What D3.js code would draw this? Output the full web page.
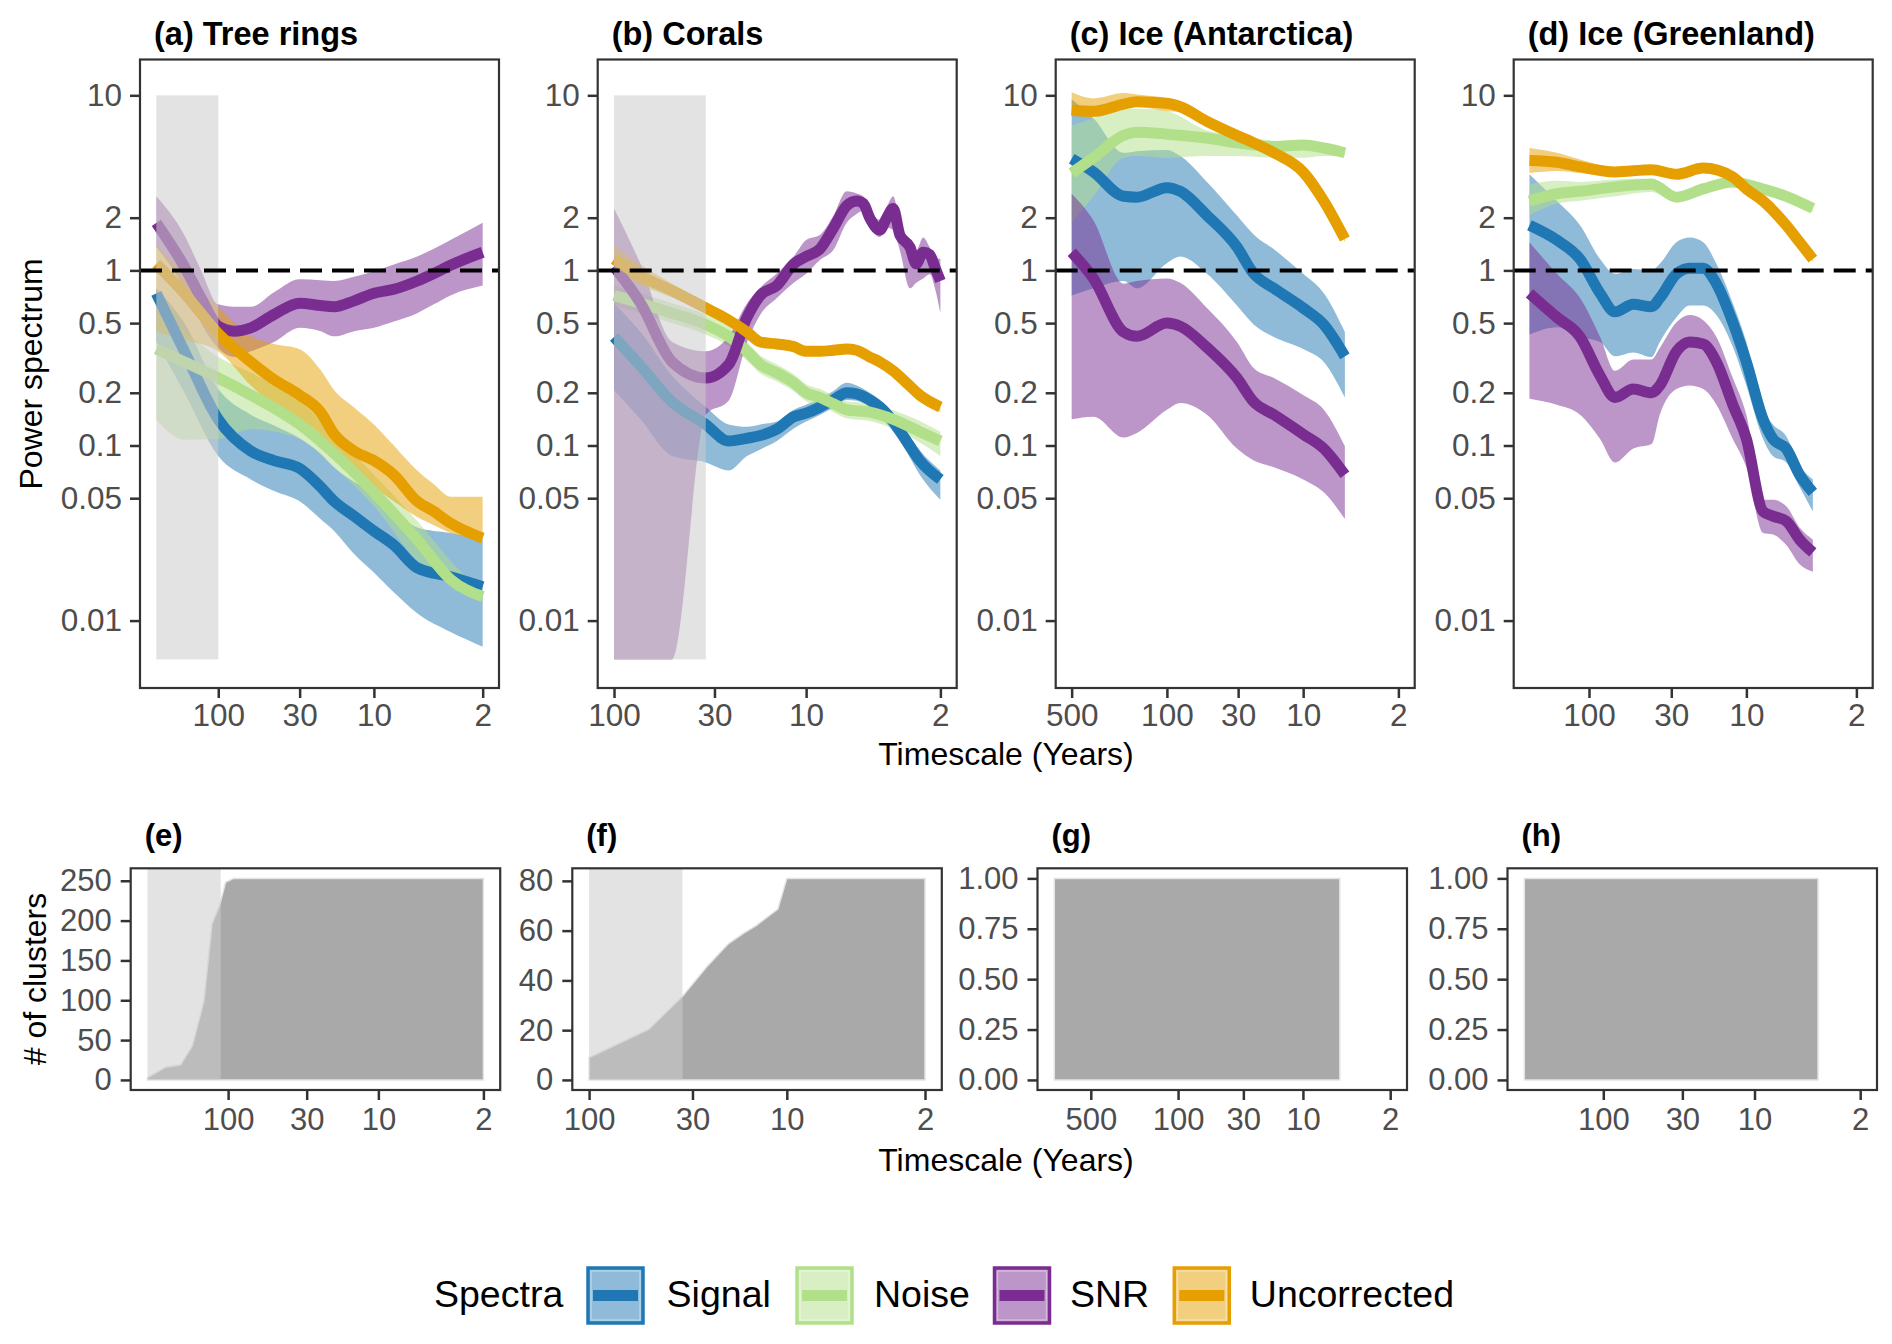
<!DOCTYPE html>
<html>
<head>
<meta charset="utf-8">
<script src="https://cdn.jsdelivr.net/npm/d3@7"></script>
<style>
  body { margin: 0; background: #fff; }
  svg text { font-family: "Liberation Sans", Arial, Helvetica, sans-serif; }
</style>
</head>
<body>
<svg id="chart" width="1892" height="1344"></svg>
<script>
"use strict";

// ---- data: rows are [timescale, mean, lower, upper] ----
var treeSignal = [[250,0.74,0.39,0.79],[165,0.345,0.2,0.5],[100,0.141,0.087,0.21],[61.7,0.093,0.064,0.15],[43.8,0.082,0.055,0.13],[30,0.074,0.048,0.11],[22,0.058,0.038,0.09],[18,0.048,0.0325,0.075],[13.4,0.0395,0.024,0.062],[10,0.0325,0.0188,0.054],[7.45,0.027,0.0145,0.043],[5.27,0.02,0.011,0.034],[3.22,0.0178,0.0086,0.0316],[2,0.0156,0.0071,0.029]];
var treeNoise = [[250,0.356,0.14,0.57],[165,0.3,0.108,0.45],[100,0.243,0.109,0.32],[61.7,0.194,0.124,0.26],[30,0.132,0.109,0.18],[18,0.09,0.075,0.115],[10,0.054,0.045,0.068],[5.27,0.029,0.022,0.037],[3.22,0.0172,0.016,0.022],[2,0.0137,0.0128,0.0145]];
var treeSNR = [[250,1.87,1.36,2.65],[165,1.05,0.79,1.59],[129,0.695,0.5,1.0],[100,0.48,0.36,0.64],[79,0.45,0.32,0.62],[61.7,0.47,0.345,0.62],[43.8,0.56,0.39,0.75],[30,0.65,0.47,0.89],[22,0.63,0.45,0.88],[18,0.62,0.42,0.87],[13.4,0.67,0.45,0.92],[10,0.74,0.47,0.99],[7.45,0.78,0.51,1.08],[5.27,0.87,0.57,1.2],[4.12,0.96,0.64,1.33],[3.22,1.07,0.72,1.49],[2,1.27,0.82,1.87]];
var treeUnc = [[250,1.09,0.445,1.4],[165,0.74,0.4,0.96],[100,0.436,0.345,0.62],[61.7,0.3,0.22,0.42],[43.8,0.238,0.17,0.38],[30,0.194,0.14,0.355],[22,0.155,0.115,0.27],[18,0.116,0.088,0.207],[13.4,0.093,0.07,0.165],[10,0.082,0.058,0.132],[7.45,0.068,0.048,0.1],[5.27,0.048,0.039,0.072],[4.12,0.042,0.035,0.06],[3.22,0.036,0.0316,0.051],[2,0.0296,0.029,0.051]];

var coralSignal = [[100,0.417,0.207,0.65],[72.8,0.285,0.141,0.445],[49.8,0.177,0.087,0.25],[33.3,0.132,0.08,0.166],[25.3,0.106,0.072,0.132],[20.3,0.11,0.087,0.128],[17.3,0.114,0.095,0.132],[14.2,0.124,0.106,0.137],[11.6,0.146,0.125,0.16],[10,0.153,0.137,0.171],[8.45,0.166,0.15,0.185],[7.2,0.182,0.165,0.205],[6.15,0.2,0.182,0.228],[5.46,0.197,0.18,0.22],[4.66,0.182,0.165,0.2],[4.13,0.166,0.146,0.182],[3.52,0.137,0.12,0.153],[3.0,0.106,0.092,0.12],[2.56,0.082,0.068,0.094],[2,0.064,0.049,0.072]];
var coralNoise = [[100,0.72,0.63,0.815],[72.8,0.65,0.57,0.74],[49.8,0.57,0.5,0.65],[33.3,0.49,0.43,0.56],[25.3,0.42,0.37,0.48],[20.3,0.345,0.305,0.39],[17.3,0.29,0.258,0.326],[14.2,0.26,0.232,0.29],[11.6,0.228,0.204,0.255],[10,0.2,0.179,0.224],[8.45,0.188,0.168,0.21],[7.2,0.173,0.155,0.193],[6.15,0.16,0.143,0.179],[4.66,0.155,0.138,0.174],[3.52,0.141,0.125,0.159],[2.56,0.12,0.104,0.138],[2,0.106,0.087,0.12]];
var coralSNR = [[100,1.05,0.006,2.26],[72.8,0.65,0.006,1.09],[49.8,0.3,0.006,0.39],[33.3,0.243,0.15,0.345],[25.3,0.29,0.18,0.42],[20.3,0.54,0.39,0.65],[17.3,0.72,0.56,0.8],[14.2,0.82,0.695,0.96],[11.6,1.09,0.85,1.2],[10,1.2,0.956,1.49],[8.45,1.33,1.15,1.6],[7.2,1.75,1.31,2.06],[6.15,2.34,1.87,2.83],[5.46,2.49,2.1,2.75],[5.04,2.41,2.19,2.65],[4.66,1.99,1.8,2.2],[4.13,1.7,1.55,1.95],[3.81,1.99,1.75,2.3],[3.52,2.26,1.7,2.65],[3.25,1.59,1.3,1.85],[2.88,1.36,0.79,1.49],[2.67,1.09,0.85,1.3],[2.46,1.27,0.9,1.54],[2.27,1.23,0.95,1.35],[2.14,1.05,0.8,1.2],[2,0.87,0.57,1.16]];
var coralUnc = [[100,1.16,0.96,1.4],[72.8,0.93,0.82,1.08],[49.8,0.765,0.7,0.84],[33.3,0.61,0.57,0.66],[25.3,0.52,0.49,0.555],[20.3,0.445,0.42,0.47],[17.3,0.39,0.37,0.41],[14.2,0.38,0.36,0.4],[11.6,0.367,0.35,0.385],[10,0.345,0.33,0.362],[8.45,0.345,0.33,0.362],[7.2,0.35,0.335,0.367],[6.15,0.356,0.34,0.373],[5.46,0.35,0.335,0.367],[4.66,0.32,0.305,0.336],[4.13,0.3,0.285,0.315],[3.52,0.267,0.253,0.282],[3.0,0.228,0.215,0.242],[2.56,0.194,0.182,0.207],[2,0.166,0.155,0.178]];

var antSignal = [[500,4.34,0.72,9.5],[346,3.65,0.79,7.4],[208,2.65,0.87,4.7],[166,2.62,0.79,4.8],[100,2.97,1.1,4.87],[79.8,2.83,1.2,4.5],[50.8,2.06,0.956,3.2],[30.6,1.36,0.63,2.06],[23,0.956,0.49,1.6],[16.4,0.79,0.417,1.32],[10,0.61,0.356,0.956],[7.05,0.49,0.3,0.74],[4.94,0.323,0.188,0.445]];
var antNoise = [[500,3.6,1.87,6.7],[346,4.4,2.65,7.4],[208,5.9,4.4,8.4],[166,6.15,4.5,8.4],[100,6.0,4.4,8.1],[50.8,5.7,4.5,6.3],[30.6,5.35,4.5,5.9],[16.4,5.1,4.4,5.5],[10,5.2,4.4,5.4],[7.05,5.0,4.5,5.2],[4.94,4.7,4.5,5.0]];
var antSNR = [[500,1.27,0.141,2.74],[346,0.9,0.146,1.93],[208,0.445,0.111,0.84],[166,0.42,0.118,0.87],[100,0.5,0.16,0.9],[79.8,0.48,0.175,0.85],[50.8,0.363,0.15,0.61],[30.6,0.243,0.096,0.39],[23,0.177,0.082,0.276],[16.4,0.15,0.075,0.243],[10,0.116,0.064,0.194],[7.05,0.096,0.054,0.16],[4.94,0.068,0.038,0.099]];
var antUnc = [[500,8.26,7.6,10.4],[346,8.1,7.5,9.6],[208,8.9,8.3,10.3],[166,9.2,8.6,10.1],[100,9.0,8.1,9.6],[79.8,8.6,8.0,9.1],[50.8,7.1,6.7,7.5],[30.6,5.9,5.6,6.2],[23,5.35,5.1,5.6],[16.4,4.7,4.5,4.9],[10,3.65,3.5,3.8],[7.05,2.49,2.4,2.6],[4.94,1.51,1.45,1.58]];

var grnSignal = [[239,1.81,0.43,3.54],[160,1.49,0.474,2.49],[114,1.16,0.417,1.81],[85,0.74,0.39,1.16],[68.4,0.58,0.323,0.956],[52.3,0.64,0.34,1.02],[40,0.62,0.32,1.0],[35.5,0.695,0.39,1.09],[27.8,0.956,0.54,1.45],[22.9,1.03,0.63,1.54],[18.8,1.03,0.63,1.45],[15.5,0.84,0.556,1.09],[12.2,0.505,0.367,0.65],[10,0.3,0.22,0.39],[7.83,0.141,0.109,0.16],[6.78,0.109,0.087,0.132],[5.58,0.096,0.08,0.113],[4.59,0.068,0.058,0.077],[3.78,0.054,0.042,0.064]];
var grnNoise = [[239,2.49,2.06,3.1],[160,2.74,2.41,3.25],[114,2.83,2.5,3.2],[68.4,3.0,2.65,3.3],[40,3.1,2.8,3.35],[27.8,2.62,2.45,2.8],[18.8,2.92,2.75,3.1],[12.2,3.2,3.05,3.35],[10,3.1,2.95,3.25],[7.83,2.92,2.8,3.05],[5.58,2.65,2.55,2.75],[3.78,2.26,2.15,2.35]];
var grnSNR = [[239,0.74,0.185,1.45],[160,0.54,0.171,0.956],[114,0.417,0.15,0.695],[85,0.25,0.109,0.417],[68.4,0.188,0.08,0.267],[52.3,0.21,0.096,0.31],[40,0.2,0.102,0.31],[35.5,0.22,0.15,0.36],[27.8,0.345,0.21,0.505],[22.9,0.39,0.22,0.556],[18.8,0.38,0.21,0.52],[15.5,0.3,0.171,0.417],[12.2,0.171,0.109,0.243],[10,0.109,0.075,0.15],[7.83,0.042,0.0316,0.049],[6.78,0.0395,0.031,0.049],[5.58,0.037,0.027,0.045],[4.59,0.029,0.021,0.034],[3.78,0.0245,0.019,0.029]];
var grnUnc = [[239,4.25,3.6,5.0],[160,4.15,3.7,4.7],[114,3.9,3.6,4.3],[68.4,3.65,3.45,3.9],[40,3.76,3.6,3.95],[27.8,3.54,3.4,3.7],[18.8,3.84,3.7,4.0],[12.2,3.42,3.3,3.55],[10,2.92,2.8,3.05],[7.83,2.49,2.4,2.6],[5.58,1.81,1.74,1.88],[4.59,1.45,1.4,1.5],[3.78,1.16,1.12,1.2]];

// cluster counts against timescale
var treeClustT = [344, 261, 207, 173, 145, 128, 114, 104, 92, 2];
var treeClustN = [3, 16, 19, 43, 99, 196, 219, 248, 253, 253];
var coralClustT = [100, 50, 33.7, 25.4, 19.7, 16.5, 14.3, 11.1, 10, 2];
var coralClustN = [9, 20.3, 33.6, 45.5, 54.8, 59, 62, 68.7, 81, 81];
var antClustT = [980, 5.06];
var antClustN = [1, 1];
var grnClustT = [333, 3.8];
var grnClustN = [1, 1];

var seriesNames = ["Signal", "Noise", "SNR", "Uncorrected"];
var seriesColors = ["#1F78B4", "#B2DF8A", "#7A2D91", "#E69F00"];

var topTitles = ["(a) Tree rings", "(b) Corals", "(c) Ice (Antarctica)", "(d) Ice (Greenland)"];
var bottomTitles = ["(e)", "(f)", "(g)", "(h)"];

var topSeries = [
  [treeSignal, treeNoise, treeSNR, treeUnc],
  [coralSignal, coralNoise, coralSNR, coralUnc],
  [antSignal, antNoise, antSNR, antUnc],
  [grnSignal, grnNoise, grnSNR, grnUnc]
];
var topTimeExtent = [[250, 2], [100, 2], [497, 2], [237, 2]];
var topShade = [[250, 100], [100, 33.3], null, null];
var shadeLevels = [0.006, 10];
var specExtent = [0.006, 11];
var specTicks = [0.01, 0.05, 0.1, 0.2, 0.5, 1, 2, 10];
var timeTicks = [500, 100, 30, 10, 2];

var clustT = [treeClustT, coralClustT, antClustT, grnClustT];
var clustN = [treeClustN, coralClustN, antClustN, grnClustN];
var bottomTimeExtent = [[344, 2], [100, 2], [980, 2], [333, 2]];
var bottomShade = [[344, 112], [100, 33.7], null, null];
var clustMax = [253, 81, 1, 1];
var clustTicks = [
  [0, 50, 100, 150, 200, 250],
  [0, 20, 40, 60, 80],
  [0, 0.25, 0.5, 0.75, 1],
  [0, 0.25, 0.5, 0.75, 1]
];

// ---- layout ----
var topLeft = [140, 597.7, 1055.7, 1513.7];
var topW = 359;
var topY = [59.5, 688];
var botLeft = [130.7, 572.3, 1037.5, 1507.5];
var botW = 369.5;
var botY = [868.3, 1090];

var svg = d3.select("#chart");
var defs = svg.append("defs");

function timeScale(ext, x0, x1) {
  var a = Math.log10(ext[0]), b = Math.log10(ext[1]);
  var pad = (a - b) * 0.05;
  return d3.scaleLog()
    .domain([Math.pow(10, a + pad), Math.pow(10, b - pad)])
    .range([x0, x1]);
}

function styleAxis(g, size) {
  g.attr("font-size", null).attr("font-family", null);
  g.select(".domain").remove();
  g.selectAll(".tick line").attr("stroke", "#333333").attr("stroke-width", 2.5);
  g.selectAll(".tick text").attr("fill", "#4D4D4D").attr("font-size", size);
}

function ticksIn(scale) {
  var d = scale.domain();
  return timeTicks.filter(function (t) {
    return t <= d[0] && t >= d[1];
  });
}

// ---- top row: spectra ----
var sa = Math.log10(specExtent[0]), sb = Math.log10(specExtent[1]);
var spad = (sb - sa) * 0.05;
var yRange = d3.scaleLog()
  .domain([Math.pow(10, sa - spad), Math.pow(10, sb + spad)])
  .range([topY[1], topY[0]]);

topSeries.forEach(function (panel, i) {
  var L = topLeft[i], R = L + topW;
  var xRange = timeScale(topTimeExtent[i], L, R);
  var g = svg.append("g");

  defs.append("clipPath").attr("id", "clipTop" + i)
    .append("rect").attr("x", L).attr("y", topY[0])
    .attr("width", topW).attr("height", topY[1] - topY[0]);
  var plot = g.append("g").attr("clip-path", "url(#clipTop" + i + ")");

  var band = d3.area()
    .x(function (d) { return xRange(d[0]); })
    .y0(function (d) { return yRange(d[2]); })
    .y1(function (d) { return yRange(d[3]); })
    .curve(d3.curveMonotoneX);
  var mean = d3.line()
    .x(function (d) { return xRange(d[0]); })
    .y(function (d) { return yRange(d[1]); })
    .curve(d3.curveMonotoneX);

  panel.forEach(function (rows, k) {
    plot.append("path").attr("d", band(rows))
      .attr("fill", seriesColors[k]).attr("fill-opacity", 0.5);
  });
  panel.forEach(function (rows, k) {
    plot.append("path").attr("d", mean(rows))
      .attr("fill", "none").attr("stroke", seriesColors[k])
      .attr("stroke-width", 11).attr("stroke-linejoin", "round");
  });

  if (topShade[i]) {
    plot.append("rect")
      .attr("x", xRange(topShade[i][0]))
      .attr("width", xRange(topShade[i][1]) - xRange(topShade[i][0]))
      .attr("y", yRange(shadeLevels[1]))
      .attr("height", yRange(shadeLevels[0]) - yRange(shadeLevels[1]))
      .attr("fill", "#CCCCCC").attr("fill-opacity", 0.55);
  }

  plot.append("line")
    .attr("x1", L).attr("x2", R)
    .attr("y1", yRange(1)).attr("y2", yRange(1))
    .attr("stroke", "#000").attr("stroke-width", 4)
    .attr("stroke-dasharray", "22,10");

  g.append("rect").attr("x", L).attr("y", topY[0])
    .attr("width", topW).attr("height", topY[1] - topY[0])
    .attr("fill", "none").attr("stroke", "#333333").attr("stroke-width", 2.2);

  g.append("g").attr("transform", "translate(" + L + ",0)")
    .call(d3.axisLeft(yRange).tickValues(specTicks).tickSize(10).tickPadding(8)
      .tickFormat(d3.format("~g")))
    .call(styleAxis, 31.5);

  g.append("g").attr("transform", "translate(0," + topY[1] + ")")
    .call(d3.axisBottom(xRange).tickValues(ticksIn(xRange)).tickSize(10).tickPadding(6)
      .tickFormat(d3.format("~g")))
    .call(styleAxis, 31.5);

  g.append("text").attr("x", L + 14).attr("y", 45)
    .attr("font-size", 32.5).attr("font-weight", "bold").attr("fill", "#000")
    .text(topTitles[i]);
});

// ---- bottom row: number of clusters ----
clustT.forEach(function (ts, i) {
  var L = botLeft[i], R = L + botW;
  var xRange = timeScale(bottomTimeExtent[i], L, R);
  var pad = clustMax[i] * 0.05;
  var yCount = d3.scaleLinear().domain([-pad, clustMax[i] + pad]).range([botY[1], botY[0]]);
  var g = svg.append("g");
  var rows = ts.map(function (t, j) { return [t, clustN[i][j]]; });

  var area = d3.area()
    .x(function (d) { return xRange(d[0]); })
    .y0(yCount(0))
    .y1(function (d) { return yCount(d[1]); });

  g.append("path").attr("d", area(rows))
    .attr("fill", "#A9A9A9").attr("stroke", "#E4E4E4").attr("stroke-width", 1.5);

  if (bottomShade[i]) {
    g.append("rect")
      .attr("x", xRange(bottomShade[i][0]))
      .attr("width", xRange(bottomShade[i][1]) - xRange(bottomShade[i][0]))
      .attr("y", botY[0])
      .attr("height", yCount(0) - botY[0])
      .attr("fill", "#CCCCCC").attr("fill-opacity", 0.55);
  }

  g.append("rect").attr("x", L).attr("y", botY[0])
    .attr("width", botW).attr("height", botY[1] - botY[0])
    .attr("fill", "none").attr("stroke", "#333333").attr("stroke-width", 2.2);

  g.append("g").attr("transform", "translate(" + L + ",0)")
    .call(d3.axisLeft(yCount).tickValues(clustTicks[i]).tickSize(10).tickPadding(9)
      .tickFormat(clustMax[i] === 1 ? d3.format(".2f") : d3.format("d")))
    .call(styleAxis, 31);

  g.append("g").attr("transform", "translate(0," + botY[1] + ")")
    .call(d3.axisBottom(xRange).tickValues(ticksIn(xRange)).tickSize(10).tickPadding(8)
      .tickFormat(d3.format("~g")))
    .call(styleAxis, 31);

  g.append("text").attr("x", L + 14).attr("y", 846)
    .attr("font-size", 31).attr("font-weight", "bold").attr("fill", "#000")
    .text(bottomTitles[i]);
});

// ---- axis titles ----
svg.append("text").attr("transform", "translate(42,374) rotate(-90)")
  .attr("text-anchor", "middle").attr("font-size", 32).text("Power spectrum");
svg.append("text").attr("transform", "translate(46,979) rotate(-90)")
  .attr("text-anchor", "middle").attr("font-size", 32).text("# of clusters");
svg.append("text").attr("x", 1006).attr("y", 765)
  .attr("text-anchor", "middle").attr("font-size", 32).text("Timescale (Years)");
svg.append("text").attr("x", 1006).attr("y", 1171)
  .attr("text-anchor", "middle").attr("font-size", 32).text("Timescale (Years)");

// ---- legend ----
var legend = svg.append("g");
legend.append("text").attr("x", 434).attr("y", 1307)
  .attr("font-size", 37.5).text("Spectra");
var keyX = [588, 797, 994.5, 1174.3];
var labelX = [666.6, 874, 1070, 1249.8];
seriesNames.forEach(function (name, k) {
  var kx = keyX[k], ky = 1268, ks = 55;
  legend.append("rect").attr("x", kx).attr("y", ky).attr("width", ks).attr("height", ks)
    .attr("fill", seriesColors[k]).attr("fill-opacity", 0.5)
    .attr("stroke", seriesColors[k]).attr("stroke-width", 3.5);
  legend.append("rect").attr("x", kx + 3).attr("y", ky + 3).attr("width", ks - 6).attr("height", ks - 6)
    .attr("fill", "none").attr("stroke", "#fff").attr("stroke-opacity", 0.35).attr("stroke-width", 1.5);
  legend.append("line").attr("x1", kx + 5).attr("x2", kx + ks - 5)
    .attr("y1", ky + ks / 2).attr("y2", ky + ks / 2)
    .attr("stroke", seriesColors[k]).attr("stroke-width", 11);
  legend.append("text").attr("x", labelX[k]).attr("y", 1307)
    .attr("font-size", 37.5).text(name);
});
</script>
</body>
</html>
